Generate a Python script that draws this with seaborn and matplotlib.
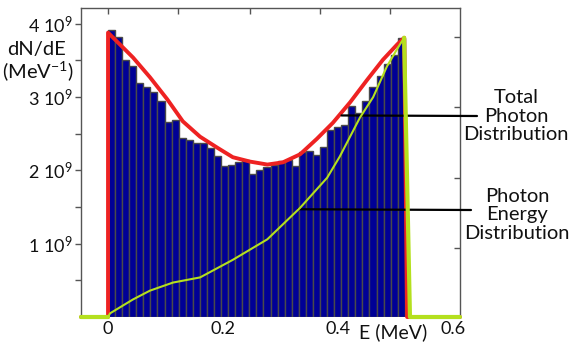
import numpy as np
import pandas as pd
import matplotlib
matplotlib.use("Agg")
import matplotlib.pyplot as plt
import seaborn as sns

# ---------------- data (y in units of 1e9 per MeV) ----------------
bar_heights = [3.91, 3.82, 3.50, 3.43, 3.19, 3.14, 3.07, 2.95, 2.66, 2.69,
               2.44, 2.41, 2.37, 2.37, 2.31, 2.19, 2.06, 2.08, 2.11, 2.14,
               1.95, 2.00, 2.04, 2.07, 2.13, 2.14, 2.06, 2.25, 2.26, 2.21,
               2.32, 2.55, 2.59, 2.62, 2.88, 2.79, 2.95, 3.14, 3.29, 3.45,
               3.57, 3.81]
e_max_bins = 0.516

total_x = [-0.047, 0.0, 0.0, 0.0435, 0.073, 0.103, 0.130, 0.160, 0.190, 0.217,
           0.247, 0.277, 0.304, 0.334, 0.363, 0.391, 0.421, 0.450, 0.478,
           0.503, 0.515, 0.520, 0.612]
total_y = [0.0, 0.0, 3.88, 3.54, 3.27, 2.97, 2.67, 2.46, 2.31, 2.18,
           2.12, 2.08, 2.11, 2.22, 2.43, 2.65, 2.93, 3.23, 3.51,
           3.72, 3.81, 0.0, 0.0]

energy_x = [0.0, 0.0035, 0.0435, 0.073, 0.113, 0.160, 0.217, 0.277, 0.334,
            0.381, 0.403, 0.438, 0.461, 0.485, 0.503, 0.5148]
energy_y = [0.0, 0.05, 0.24, 0.36, 0.47, 0.54, 0.78, 1.06, 1.49,
            1.90, 2.19, 2.72, 3.00, 3.42, 3.66, 3.81]
energy_edge_x = [0.5148, 0.525, 0.612]
energy_edge_y = [3.81, 0.0, 0.0]
energy_left_x = [-0.047, 0.0]
energy_left_y = [0.0, 0.0]

ytick_vals = [1, 2, 3, 4]
ytick_labels = ["1 10$^9$", "2 10$^9$", "3 10$^9$", "4 10$^9$"]
xtick_vals = [0, 0.2, 0.4, 0.6]
xtick_labels = ["0", "0.2", "0.4", "0.6"]

# ---------------- style ----------------
sns.set_style("white")
plt.rcParams["font.family"] = ["Lato", "DejaVu Sans"]
plt.rcParams["mathtext.fontset"] = "custom"
plt.rcParams["mathtext.rm"] = "Lato"
plt.rcParams["mathtext.it"] = "Lato:italic"
plt.rcParams["mathtext.bf"] = "Lato:bold"

TXT = "#111111"
W, H = 571, 343
fig = plt.figure(figsize=(W / 100, H / 100), dpi=100)
ax = fig.add_axes([81 / W, 1 - 317 / H, 379 / W, 309 / H])

n_bins = len(bar_heights)
bw = e_max_bins / n_bins
centers = [bw * (i + 0.5) for i in range(n_bins)]
df_bars = pd.DataFrame({"E": centers, "w": bar_heights})
sns.histplot(data=df_bars, x="E", weights="w", binwidth=bw,
             binrange=(0, e_max_bins), ax=ax,
             color="#000096", alpha=1.0, edgecolor="#4a4a4a", linewidth=1.0,
             zorder=2)

sns.lineplot(x=total_x, y=total_y, sort=False, estimator=None, ax=ax,
             color="#ee2222", linewidth=2.8, zorder=3)
sns.lineplot(x=energy_x, y=energy_y, sort=False, estimator=None, ax=ax,
             color="#b4e01e", linewidth=1.5, zorder=4)
for xs, ys in [(energy_edge_x, energy_edge_y), (energy_left_x, energy_left_y)]:
    sns.lineplot(x=xs, y=ys, sort=False, estimator=None, ax=ax,
                 color="#b4e01e", linewidth=3.0, zorder=4)
for l in ax.lines:
    l.set_clip_on(False)

ax.set_xlim(-0.047, 0.612)
ax.set_ylim(0, 4.216)
ax.set_xlabel("")
ax.set_ylabel("")

# spines
for s in ["left", "top", "right"]:
    ax.spines[s].set_visible(True)
    ax.spines[s].set_color("#555555")
    ax.spines[s].set_linewidth(1.0)
ax.spines["bottom"].set_visible(False)

ax.set_yticks(ytick_vals)
ax.set_yticklabels(ytick_labels, fontsize=13, color=TXT)
ax.set_yticks([0.5, 1.5, 2.5, 3.5], minor=True)
ax.tick_params(axis="y", which="both", direction="out", length=4, width=1,
               color="#555555", left=True, right=False, pad=2)
ax.set_xticks(xtick_vals)
ax.set_xticklabels(xtick_labels, fontsize=13, color=TXT)
ax.tick_params(axis="x", which="both", length=0, pad=3, bottom=True, top=False)

sec_top = ax.secondary_xaxis("top")
sec_top.set_xticks([0.0, 0.122, 0.247, 0.369, 0.490])
sec_top.set_xticklabels([])
sec_top.tick_params(direction="in", length=4, width=1, color="#555555")
sec_top.spines["top"].set_visible(False)

sec_right = ax.secondary_yaxis("right")
sec_right.set_yticks([0.94, 1.90, 2.86, 3.82])
sec_right.set_yticklabels([])
sec_right.tick_params(direction="in", length=4, width=1, color="#555555")
sec_right.spines["right"].set_visible(False)

# labels
fig.text(36 / W, 1 - 50 / H, "dN/dE", ha="center", va="center", fontsize=14.5,
         color=TXT)
fig.text(38 / W, 1 - 71 / H, "(MeV$^{-1}$)", ha="center", va="center",
         fontsize=14.5, color=TXT)
fig.text(393 / W, 1 - 332 / H, "E (MeV)", ha="center", va="center",
         fontsize=14, color=TXT)

# annotations
ax.annotate("", xy=(0.406, 2.75), xycoords="data",
            xytext=(477 / W, 1 - 116 / H), textcoords="figure fraction",
            arrowprops=dict(arrowstyle="-", color="black", lw=1.6,
                            shrinkA=0, shrinkB=0), annotation_clip=False)
ax.annotate("", xy=(0.330, 1.47), xycoords="data",
            xytext=(471 / W, 1 - 210 / H), textcoords="figure fraction",
            arrowprops=dict(arrowstyle="-", color="black", lw=1.6,
                            shrinkA=0, shrinkB=0), annotation_clip=False)
fig.text(516 / W, 1 - 116 / H, "Total\nPhoton\nDistribution", ha="center",
         va="center", fontsize=14.5, linespacing=1.12, color=TXT)
fig.text(517 / W, 1 - 215 / H, "Photon\nEnergy\nDistribution", ha="center",
         va="center", fontsize=14.5, linespacing=1.12, color=TXT)

fig.savefig("out.png", dpi=100)
